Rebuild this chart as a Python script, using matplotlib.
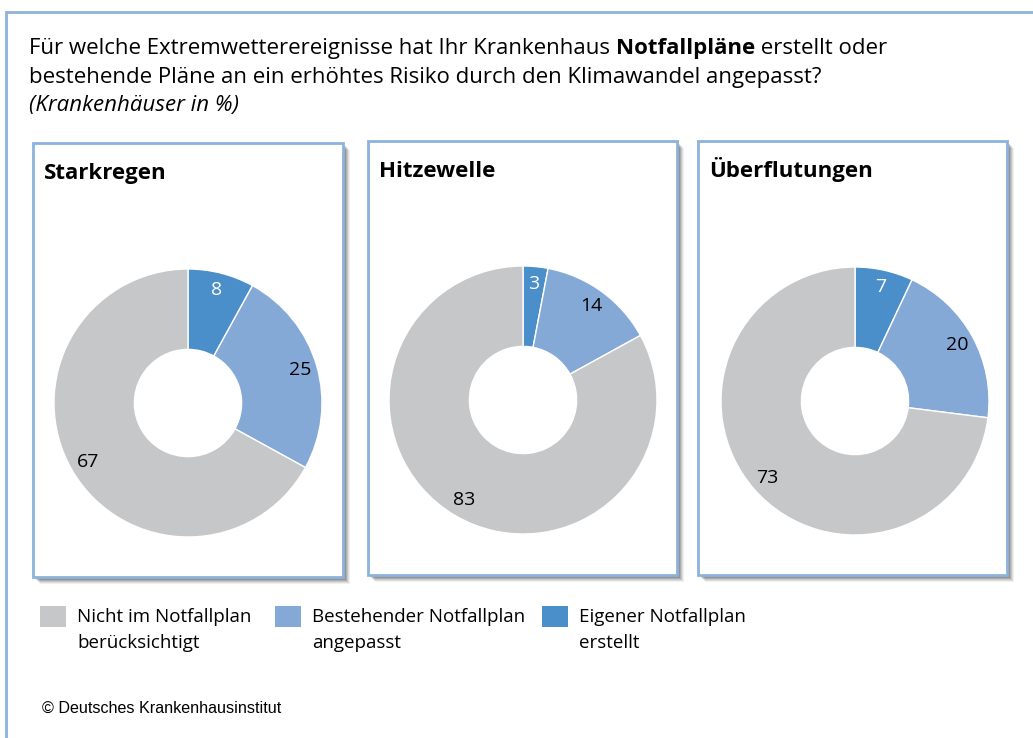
import matplotlib.pyplot as plt
from matplotlib.patches import Rectangle

# Daten
events = ['Starkregen', 'Hitzewelle', 'Überflutungen']
erstellt = [8, 3, 7]          # Eigener Notfallplan erstellt
angepasst = [25, 14, 20]      # Bestehender Notfallplan angepasst
nicht = [67, 83, 73]          # Nicht im Notfallplan berücksichtigt

legend_labels = [('Nicht im Notfallplan', 'berücksichtigt'),
                 ('Bestehender Notfallplan', 'angepasst'),
                 ('Eigener Notfallplan', 'erstellt')]

c_nicht, c_angepasst, c_erstellt = '#c6c7c9', '#84a9d6', '#4a8fca'
border = '#8db2dc'
FONT = 'Open Sans'

W, H = 1033, 738
fig = plt.figure(figsize=(W / 100, H / 100), dpi=100)


def fx(px):
    return px / W


def fy(py):
    return 1 - py / H


# outer frame (runs off the right and bottom edge)
fig.patches.append(Rectangle((fx(6), fy(760)), fx(1060) - fx(6), fy(12) - fy(760),
                             transform=fig.transFigure, facecolor='white',
                             edgecolor=border, lw=2, zorder=0))

# title with a bold word
renderer = fig.canvas.get_renderer()
x0 = fx(29)
t1 = fig.text(x0, fy(54), 'Für welche Extremwetterereignisse hat Ihr Krankenhaus ',
              fontsize=16, family=FONT, va='baseline')
bb = t1.get_window_extent(renderer)
t2 = fig.text(bb.x1 / W, fy(54), 'Notfallpläne', fontsize=16, family=FONT,
              fontweight='bold', va='baseline')
bb = t2.get_window_extent(renderer)
fig.text(bb.x1 / W, fy(54), ' erstellt oder', fontsize=16, family=FONT, va='baseline')
fig.text(x0, fy(83), 'bestehende Pläne an ein erhöhtes Risiko durch den Klimawandel angepasst?',
         fontsize=16, family=FONT, va='baseline')
fig.text(x0, fy(111), '(Krankenhäuser in %)', fontsize=16, family=FONT,
         style='italic', va='baseline')

# panels: left, top, right, bottom in pixels
panels = [(33, 143, 343, 577), (368, 141, 677, 575), (698, 141, 1007, 575)]
centers = [(188, 403), (523, 400), (855, 401)]
radius = 134

for i, (l, t, r, b) in enumerate(panels):
    # soft shadow
    for k, a in zip([7, 6, 5, 4, 3], [0.06, 0.08, 0.1, 0.12, 0.14]):
        fig.patches.append(Rectangle((fx(l + k), fy(b + k)), fx(r) - fx(l), fy(t) - fy(b),
                                     transform=fig.transFigure, facecolor='black',
                                     edgecolor='none', alpha=a, zorder=1))
    fig.patches.append(Rectangle((fx(l), fy(b)), fx(r) - fx(l), fy(t) - fy(b),
                                 transform=fig.transFigure, facecolor='white',
                                 edgecolor=border, lw=2, zorder=2))
    fig.text(fx(l + 11), fy(t + 36), events[i], fontsize=16, family=FONT,
             fontweight='bold', va='baseline', zorder=3)

    cx, cy = centers[i]
    ax = fig.add_axes([fx(cx - radius), fy(cy + radius), 2 * radius / W, 2 * radius / H])
    ax.set_zorder(3)
    vals = [erstellt[i], angepasst[i], nicht[i]]
    wedges, texts, autotexts = ax.pie(
        vals, colors=[c_erstellt, c_angepasst, c_nicht], startangle=90,
        counterclock=False, autopct=lambda p: f'{p:.0f}', pctdistance=0.87,
        wedgeprops=dict(width=0.6, edgecolor='white', linewidth=1),
        textprops=dict(fontsize=14, family=FONT))
    autotexts[0].set_color('white')
    ax.set_xlim(-1, 1)
    ax.set_ylim(-1, 1)
    ax.set_aspect('equal')
    ax.axis('off')

# legend
leg_x = [40, 275, 542]
for x, (line1, line2), col in zip(leg_x, legend_labels, [c_nicht, c_angepasst, c_erstellt]):
    fig.patches.append(Rectangle((fx(x), fy(627)), fx(26), 21 / H,
                                 transform=fig.transFigure, facecolor=col,
                                 edgecolor='none', zorder=2))
    fig.text(fx(x + 37), fy(622), line1, fontsize=13.5, family=FONT, va='baseline')
    fig.text(fx(x + 37), fy(648), line2, fontsize=13.5, family=FONT, va='baseline')

fig.text(fx(42), fy(713), '© Deutsches Krankenhausinstitut', fontsize=11.6,
         family='Liberation Sans', va='baseline')

fig.savefig('out.png', dpi=100)
